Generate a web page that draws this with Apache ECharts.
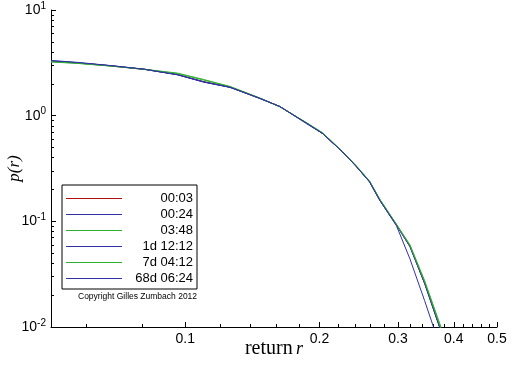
<!DOCTYPE html>
<html><head><meta charset="utf-8">
<script src="https://cdn.jsdelivr.net/npm/echarts@6/dist/echarts.min.js"></script>
<style>html,body{margin:0;padding:0;background:#fff}#c{width:512px;height:366px}</style>
</head><body><div id="c"></div>
<script>
const returns = [0.05, 0.057, 0.068, 0.081, 0.096, 0.110, 0.126, 0.147, 0.163, 0.187, 0.203, 0.225, 0.242, 0.259, 0.273, 0.2975, 0.319, 0.344, 0.372, 0.385];
const seriesNames = ['00:03', '00:24', '03:48', '1d 12:12', '7d 04:12', '68d 06:24'];
const p_0003 = [3.27, 3.16, 2.96, 2.74, 2.45, 2.10, 1.86, 1.46, 1.22, 0.85, 0.68, 0.455, 0.330, 0.238, 0.160, 0.093, 0.058, 0.0260, 0.0100, 0.0066];
const p_0024 = [3.30, 3.18, 2.97, 2.75, 2.44, 2.08, 1.85, 1.46, 1.22, 0.85, 0.68, 0.456, 0.329, 0.237, 0.159, 0.092, 0.0576, 0.0259, 0.0098, 0.0064];
const p_0348 = [3.22, 3.13, 2.95, 2.75, 2.53, 2.20, 1.89, 1.47, 1.21, 0.86, 0.69, 0.460, 0.335, 0.240, 0.162, 0.094, 0.060, 0.0275, 0.0108, 0.0072];
const p_1d = [3.28, 3.17, 2.97, 2.75, 2.45, 2.09, 1.86, 1.45, 1.22, 0.84, 0.68, 0.455, 0.330, 0.236, 0.158, 0.092, 0.058, 0.0262, 0.0100, 0.0066];
const p_7d = [3.24, 3.14, 2.95, 2.74, 2.50, 2.17, 1.88, 1.46, 1.22, 0.85, 0.69, 0.458, 0.332, 0.240, 0.161, 0.093, 0.059, 0.0270, 0.0104, 0.0069];
const p_68d = [3.33, 3.20, 2.98, 2.75, 2.44, 2.08, 1.86, 1.46, 1.22, 0.85, 0.68, 0.456, 0.329, 0.236, 0.158, 0.091, 0.0441, 0.0178, 0.0067, 0.0043];
const seriesValues = [p_0003, p_0024, p_0348, p_1d, p_7d, p_68d];
const seriesColors = ['#b01010', '#3030a8', '#30b030', '#3030a8', '#30b030', '#3030a8'];
const xMajorTicks = [0.1, 0.2, 0.3, 0.4, 0.5];
const xMinorTicks = [0.06, 0.08, 0.12, 0.14, 0.16, 0.18, 0.22, 0.24, 0.26, 0.28, 0.32, 0.34, 0.36, 0.38, 0.42, 0.44, 0.46, 0.48];
const yMajorTicks = [0.01, 0.1, 1, 10];
const yMinorTicks = [0.02, 0.03, 0.04, 0.05, 0.06, 0.07, 0.08, 0.09, 0.2, 0.3, 0.4, 0.5, 0.6, 0.7, 0.8, 0.9, 2, 3, 4, 5, 6, 7, 8, 9];

const chart = echarts.init(document.getElementById('c'), null, {renderer: 'canvas'});
const axisFont = 'Liberation Sans, Arial, sans-serif';
const serif = 'Liberation Serif, Times New Roman, serif';
const option = {
  animation: false,
  backgroundColor: '#fff',
  grid: {left: 51, right: 15, top: 10, bottom: 39, containLabel: false, outerBoundsMode: 'none'},
  legend: {
    orient: 'vertical', left: 62, top: 185,
    data: seriesNames,
    icon: 'rect',
    itemWidth: 56, itemHeight: 1, itemGap: 3,
    padding: [7, 4, 4, 4],
    borderColor: '#000', borderWidth: 1, borderRadius: 0,
    selectedMode: false,
    formatter: n => '{t|' + n + '}',
    textStyle: {rich: {t: {width: 66, align: 'right', fontSize: 13, fontFamily: axisFont, color: '#000', lineHeight: 12}}}
  },
  graphic: [{
    type: 'text', left: 78, top: 292,
    style: {text: 'Copyright Gilles Zumbach 2012', fontSize: 8.5, fontFamily: axisFont, fill: '#000'}
  }],
  xAxis: [{
    type: 'log', logBase: 10, min: 0.05, max: 0.5,
    axisLine: {lineStyle: {color: '#000', width: 1}},
    axisTick: {inside: true, length: 5, customValues: xMajorTicks, lineStyle: {color: '#000'}},
    axisLabel: {customValues: xMajorTicks, margin: 5, fontSize: 14, fontFamily: axisFont, color: '#000',
      formatter: v => String(+(+v).toFixed(2))},
    splitLine: {show: false},
    name: '{a|return} {b|r}', nameLocation: 'middle', nameGap: 12, nameMoveOverlap: false,
    nameTextStyle: {rich: {
      a: {fontFamily: serif, fontSize: 20, color: '#000'},
      b: {fontFamily: serif, fontSize: 18, fontStyle: 'italic', color: '#000'}
    }}
  }, {
    type: 'log', logBase: 10, min: 0.05, max: 0.5, position: 'bottom',
    axisLine: {show: false},
    axisTick: {inside: true, length: 3, customValues: xMinorTicks, lineStyle: {color: '#000'}},
    axisLabel: {show: false}, splitLine: {show: false}
  }],
  yAxis: [{
    type: 'log', logBase: 10, min: 0.01, max: 10, position: 'left',
    axisLine: {show: true, lineStyle: {color: '#000', width: 1}},
    axisTick: {show: true, inside: true, length: 5, customValues: yMajorTicks, lineStyle: {color: '#000'}},
    axisLabel: {customValues: yMajorTicks, margin: 5, color: '#000',
      formatter: v => '{b|10}{s|' + Math.round(Math.log10(v)) + '}',
      rich: {b: {fontSize: 14, fontFamily: axisFont, lineHeight: 18}, s: {fontSize: 10, fontFamily: axisFont, verticalAlign: 'top', lineHeight: 18}}},
    splitLine: {show: false},
    name: 'p(r)', nameLocation: 'middle', nameGap: 28, nameRotate: 90, nameMoveOverlap: false,
    nameTextStyle: {fontFamily: serif, fontSize: 17, fontStyle: 'italic', color: '#000'}
  }, {
    type: 'log', logBase: 10, min: 0.01, max: 10, position: 'left', offset: 0,
    axisLine: {show: false},
    axisTick: {show: true, inside: true, length: 3, customValues: yMinorTicks, lineStyle: {color: '#000'}},
    axisLabel: {show: false}, splitLine: {show: false}
  }],
  series: seriesNames.map((n, i) => ({
    name: n, type: 'line', xAxisIndex: 0, yAxisIndex: 0,
    data: returns.map((r, j) => [r, seriesValues[i][j]]),
    symbol: 'none', clip: true, silent: true,
    lineStyle: {color: seriesColors[i], width: 1},
    itemStyle: {color: seriesColors[i]}
  }))
};
chart.setOption(option);
</script></body></html>
